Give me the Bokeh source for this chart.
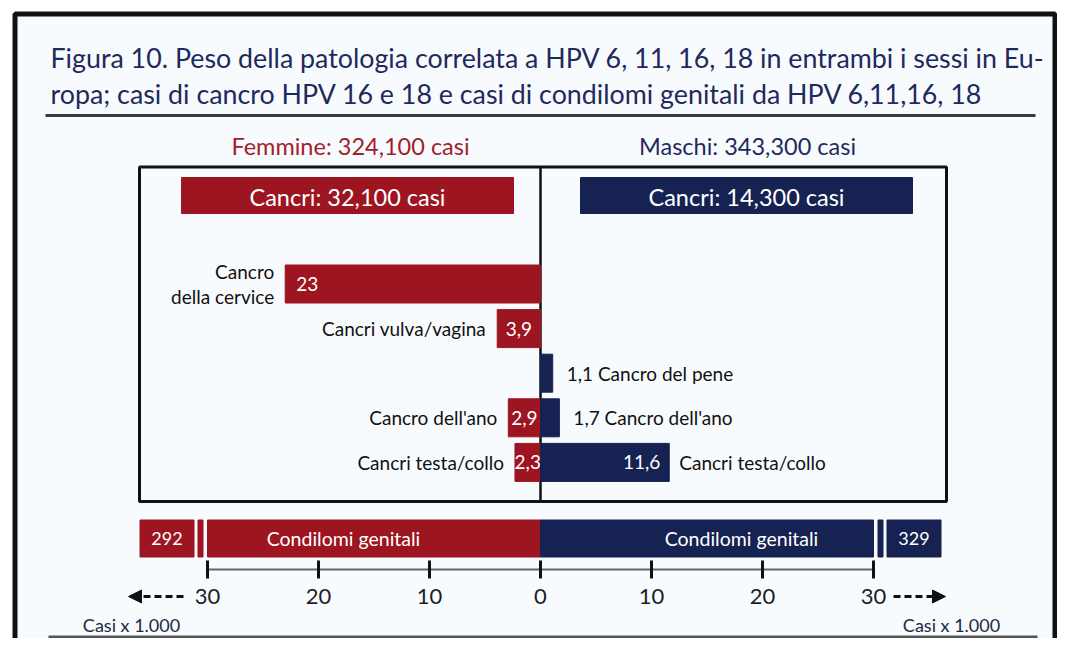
from bokeh.plotting import figure
from bokeh.models import Range1d, Arrow, NormalHead
from bokeh.core.properties import value
from bokeh.embed import file_html
from bokeh.resources import INLINE

# ---------------- data ----------------
title_lines = [
    "Figura 10. Peso della patologia correlata a HPV 6, 11, 16, 18 in entrambi i sessi in Eu-",
    "ropa; casi di cancro HPV 16 e 18 e casi di condilomi genitali da HPV 6,11,16, 18",
]
totale_femmine = 324100
totale_maschi = 343300
cancri_femmine = 32100
cancri_maschi = 14300

categorie = ["Cancro\ndella cervice", "Cancri vulva/vagina", "Cancro del pene",
             "Cancro dell'ano", "Cancri testa/collo"]
femmine = [23, 3.9, None, 2.9, 2.3]
maschi = [None, None, 1.1, 1.7, 11.6]

condilomi_femmine = 292
condilomi_maschi = 329

tick_values = [-30, -20, -10, 0, 10, 20, 30]
tick_labels = ["30", "20", "10", "0", "10", "20", "30"]

# ---------------- style ----------------
RED = "#9d1520"
NAVY = "#162252"
BG = "#f8fbfe"
INK = "#111111"
FONT = value("Lato")
S = 11.1  # pixels per 1000 cases


def px(x):
    return (x - 540) / S


def dx(w):
    return w / S


def fmt(v):
    return f"{v:g}".replace(".", ",")


p = figure(width=1057, height=638, x_range=Range1d(px(0), px(1057)),
           y_range=Range1d(638, 0), x_axis_type=None, y_axis_type=None,
           toolbar_location=None, output_backend="svg", min_border=0)
p.grid.visible = False
p.outline_line_color = None
p.background_fill_color = "white"
p.border_fill_color = "white"

# outer frame
p.quad(left=px(14.5), right=px(1054.5), top=13.5, bottom=720,
       fill_color=BG, line_color="#111111", line_width=5)

# title
for i, t in enumerate(title_lines):
    p.text(x=[px(50)], y=[57 + 36 * i], text=[t], text_font=FONT,
           text_font_size="26.8px", text_color="#1e2a5c",
           text_baseline="alphabetic", text_align="left")
p.segment(x0=[px(45)], x1=[px(1035)], y0=[115], y1=[115],
          line_color="#3a3a3a", line_width=3)
p.segment(x0=[px(48)], x1=[px(1037)], y0=[636.5], y1=[636.5],
          line_color="#555555", line_width=3)

# sex headers
p.text(x=[px(350)], y=[145], text=[f"Femmine: {totale_femmine:,} casi"],
       text_font=FONT, text_font_size="23.5px", text_color="#a3202b",
       text_align="center", text_baseline="middle")
p.text(x=[px(747)], y=[145], text=[f"Maschi: {totale_maschi:,} casi"],
       text_font=FONT, text_font_size="23.5px", text_color="#1e2a5c",
       text_align="center", text_baseline="middle")

# inner box
p.quad(left=px(139), right=px(946), top=166.5, bottom=501,
       fill_color=None, line_color="#111111", line_width=3)
p.segment(x0=[0], x1=[0], y0=[166], y1=[501], line_color="#111111", line_width=2.5)

# cancer totals
p.quad(left=[px(181)], right=[px(513)], top=[177], bottom=[213], color=RED)
p.quad(left=[px(580)], right=[px(912)], top=[177], bottom=[213], color=NAVY)
p.text(x=[px(347)], y=[196], text=[f"Cancri: {cancri_femmine:,} casi"],
       text_font=FONT, text_font_size="23.5px", text_color="white",
       text_align="center", text_baseline="middle")
p.text(x=[px(746)], y=[196], text=[f"Cancri: {cancri_maschi:,} casi"],
       text_font=FONT, text_font_size="23.5px", text_color="white",
       text_align="center", text_baseline="middle")

# cancer bars
row_y = [283.5 + 44.6 * i for i in range(len(categorie))]
BAR_H = 38
LBL = "19px"
for cat, f, m, y in zip(categorie, femmine, maschi, row_y):
    if f is not None:
        p.hbar(y=[y], left=[-f], right=[0], height=BAR_H, color=RED)
        if f * S > 60:
            p.text(x=[-f + dx(11)], y=[y], text=[fmt(f)], text_font=FONT,
                   text_font_size=LBL, text_color="white",
                   text_align="left", text_baseline="middle")
        else:
            p.text(x=[-f / 2], y=[y], text=[fmt(f)], text_font=FONT,
                   text_font_size=LBL, text_color="white",
                   text_align="center", text_baseline="middle")
        p.text(x=[-f - dx(11)], y=[y], text=[cat], text_font=FONT,
               text_font_size=LBL, text_color=INK, text_align="right",
               text_baseline="middle", text_line_height=1.05)
    if m is not None:
        p.hbar(y=[y], left=[0], right=[m], height=BAR_H, color=NAVY)
        if m * S > 60:
            p.text(x=[m - dx(9)], y=[y], text=[fmt(m)], text_font=FONT,
                   text_font_size=LBL, text_color="white",
                   text_align="right", text_baseline="middle")
            p.text(x=[m + dx(10)], y=[y], text=[cat], text_font=FONT,
                   text_font_size=LBL, text_color=INK, text_align="left",
                   text_baseline="middle")
        else:
            p.text(x=[m + dx(14)], y=[y], text=[f"{fmt(m)}  {cat}"], text_font=FONT,
                   text_font_size=LBL, text_color=INK, text_align="left",
                   text_baseline="middle")

# genital warts (broken bars, axis capped at 30)
CY, CH = 538, 37
CAP = 30
for sign, val, col, mid in [(-1, condilomi_femmine, RED, 343),
                            (1, condilomi_maschi, NAVY, 741)]:
    p.hbar(y=[CY], left=[0], right=[sign * CAP], height=CH, color=col)
    s0 = sign * (CAP + dx(4.5))
    s1 = sign * (CAP + dx(9.5))
    p.hbar(y=[CY], left=[min(s0, s1)], right=[max(s0, s1)], height=CH, color=col)
    b0 = sign * (CAP + dx(13.5))
    b1 = sign * (CAP + dx(13.5 + 54))
    p.hbar(y=[CY], left=[min(b0, b1)], right=[max(b0, b1)], height=CH, color=col)
    p.text(x=[(b0 + b1) / 2], y=[CY], text=[str(val)], text_font=FONT,
           text_font_size="18px", text_color="white", text_align="center",
           text_baseline="middle")
    p.text(x=[px(mid)], y=[CY], text=["Condilomi genitali"], text_font=FONT,
           text_font_size="19.5px", text_color="white", text_align="center",
           text_baseline="middle")

# axis
p.segment(x0=[tick_values[0]], x1=[tick_values[-1]], y0=[569], y1=[569],
          line_color="#666666", line_width=2)
p.segment(x0=tick_values, x1=tick_values, y0=[560] * len(tick_values),
          y1=[578] * len(tick_values), line_color="#111111", line_width=3)
p.text(x=tick_values, y=[596] * len(tick_values), text=tick_labels,
       text_font=FONT, text_font_size="22px", text_color="#1e1e1e",
       text_align="center", text_baseline="middle")

# arrows and unit notes
p.add_layout(Arrow(end=NormalHead(size=13, fill_color="#111111", line_color="#111111"),
                   x_start=px(183), y_start=596, x_end=px(128), y_end=596,
                   line_width=3, line_dash="7 4", line_color="#111111"))
p.add_layout(Arrow(end=NormalHead(size=13, fill_color="#111111", line_color="#111111"),
                   x_start=px(893), y_start=596, x_end=px(945), y_end=596,
                   line_width=3, line_dash="7 4", line_color="#111111"))
p.text(x=[px(131)], y=[624], text=["Casi x 1.000"], text_font=FONT,
       text_font_size="18px", text_color="#222a44", text_align="center",
       text_baseline="middle")
p.text(x=[px(951)], y=[624], text=["Casi x 1.000"], text_font=FONT,
       text_font_size="18px", text_color="#222a44", text_align="center",
       text_baseline="middle")

open("out.html", "w").write(file_html(p, INLINE))
